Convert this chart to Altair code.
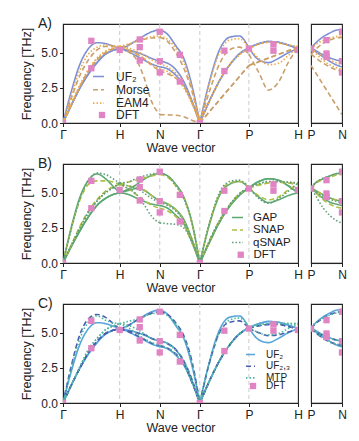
import altair as alt
import pandas as pd

FONT = "Liberation Sans"
INK = "#222222"
PINK = "#e184c4"
YMAX = 7.05

# ---- path (BCC, units of 2pi/a) ----
K_MAIN = [0, 0.15, 0.3, 0.45, 0.6, 0.75, 0.9, 1.0,
          1.141, 1.283, 1.424, 1.566, 1.707,
          1.848, 1.990, 2.131, 2.273, 2.414,
          2.587, 2.760, 2.934, 3.107, 3.280,
          3.454, 3.627, 3.800, 3.973, 4.146]
SEG_MAIN = [(0, 7), (7, 12), (12, 17), (17, 22), (22, 27)]
K_SIDE = [0, 0.1, 0.2, 0.3, 0.4, 0.5]
SEG_SIDE = [(0, 5)]
TICK_POS = [0, 1.0, 1.707, 2.414, 3.280, 4.146]
TICK_LAB = ["Γ", "H", "N", "Γ", "P", "H"]
SIDE_TICK_POS = [0, 0.5]
SIDE_TICK_LAB = ["P", "N"]
GRID_POS = [1.0, 1.707, 2.414, 3.280]
Y_TICKS = [0, 2.5, 5.0]

# ---- DFT reference points ----
DFT_K = [0, 0.5, 0.5, 1.0, 1.354, 1.354, 1.354, 1.707, 1.707, 1.707,
         2.061, 2.061, 2.414, 2.847, 2.847, 3.280, 3.713, 3.713, 4.146]
DFT_F = [0, 5.85, 3.9, 5.2, 5.95, 5.4, 4.45, 6.5, 4.4, 3.6,
         4.85, 2.95, 0, 5.15, 3.7, 5.3, 5.6, 5.15, 5.2]
DFT_SIDE_K = [0, 0.25, 0.25, 0.25, 0.5, 0.5, 0.5]
DFT_SIDE_F = [5.3, 5.9, 4.95, 4.7, 6.5, 4.4, 3.6]

# ---- Panel A / C : UF2 ----
UF2_B3 = [0, 2.3, 4.2, 5.3, 5.72, 5.65, 5.45, 5.3, 5.5, 5.85, 6.2, 6.5, 6.65,
          6.3, 5.5, 4.6, 2.7, 0, 3.0, 5.2, 6.1, 6.2, 5.35, 5.65, 5.8, 5.75, 5.55, 5.3]
UF2_B2 = [0, 1.3, 2.5, 3.5, 4.3, 4.9, 5.2, 5.3, 5.2, 5.05, 4.85, 4.6, 4.4,
          4.25, 3.8, 2.95, 1.6, 0, 1.6, 3.0, 4.1, 4.9, 5.35, 5.65, 5.8, 5.75, 5.55, 5.3]
UF2_B1 = [0, 1.3, 2.5, 3.5, 4.3, 4.9, 5.2, 5.3, 5.1, 4.8, 4.5, 4.2, 4.0,
          3.85, 3.4, 2.7, 1.5, 0, 1.6, 3.0, 4.1, 4.9, 5.35, 4.5, 4.3, 4.6, 5.0, 5.3]
UF2_S = [[5.35, 5.8, 6.15, 6.4, 6.6, 6.65], [5.35, 5.1, 4.85, 4.65, 4.5, 4.4],
         [5.35, 5.0, 4.7, 4.4, 4.15, 4.0]]

# ---- Panel A : Morse ----
MORSE_B3 = [0, 1.8, 3.4, 4.5, 5.2, 5.45, 5.45, 5.4, 5.55, 5.8, 5.95, 6.05, 6.1,
            5.8, 5.0, 3.9, 2.3, 0, 2.3, 4.2, 5.2, 5.4, 4.9, 3.6, 2.35, 2.9, 4.3, 5.4]
MORSE_B2 = [0, 1.3, 2.6, 3.7, 4.5, 5.0, 5.3, 5.4, 5.2, 4.95, 4.6, 4.1, 3.7,
            3.5, 3.2, 2.6, 1.5, 0, 0.82, 1.64, 2.46, 3.28, 4.1, 4.36, 4.62, 4.88, 5.14, 5.4]
MORSE_B1 = [0, 1.3, 2.6, 3.7, 4.5, 5.0, 5.3, 5.4, 5.1, 4.6, 3.3, 1.5, 0.6,
            0.58, 0.55, 0.45, 0.2, 0, 0.82, 1.64, 2.46, 3.28, 4.1, 4.36, 4.62, 4.88, 5.14, 5.4]
MORSE_S = [[4.9, 5.35, 5.7, 5.9, 6.05, 6.1], [4.9, 4.55, 4.25, 4.0, 3.8, 3.7],
           [4.1, 3.4, 2.7, 2.0, 1.3, 0.6]]

# ---- Panel A : EAM4 ----
EAM4_B3 = [0, 2.0, 3.8, 4.9, 5.4, 5.55, 5.5, 5.45, 5.6, 5.8, 6.0, 6.15, 6.2,
           5.95, 5.3, 4.3, 2.5, 0, 2.9, 5.0, 5.9, 6.0, 5.3, 5.6, 5.75, 5.7, 5.55, 5.45]
EAM4_B2 = [0, 1.4, 2.7, 3.8, 4.6, 5.1, 5.35, 5.45, 5.35, 5.15, 4.85, 4.5, 4.2,
           4.0, 3.55, 2.75, 1.5, 0, 1.6, 3.0, 4.1, 4.85, 5.3, 5.6, 5.75, 5.7, 5.55, 5.45]
EAM4_B1 = [0, 1.4, 2.7, 3.8, 4.6, 5.1, 5.35, 5.45, 5.25, 4.95, 4.6, 4.15, 3.85,
           3.65, 3.2, 2.5, 1.4, 0, 1.6, 3.0, 4.1, 4.85, 5.3, 4.6, 4.15, 4.25, 4.8, 5.45]
EAM4_S = [[5.3, 5.65, 5.9, 6.05, 6.15, 6.2], [5.3, 5.0, 4.75, 4.5, 4.3, 4.2],
          [5.3, 4.85, 4.45, 4.15, 3.95, 3.85]]

# ---- Panel B : GAP ----
GAP_B3 = [0, 2.6, 4.7, 5.9, 6.35, 6.0, 5.4, 5.0, 5.25, 5.55, 5.95, 6.25, 6.4,
          6.2, 5.6, 4.7, 2.9, 0, 2.8, 4.8, 5.6, 5.8, 5.35, 5.8, 6.0, 5.9, 5.5, 5.0]
GAP_B2 = [0, 1.2, 2.3, 3.3, 4.1, 4.6, 4.9, 5.0, 5.15, 5.3, 5.2, 4.8, 4.4,
          4.2, 3.8, 3.1, 1.7, 0, 1.5, 2.9, 4.0, 4.8, 5.35, 5.8, 6.0, 5.9, 5.5, 5.0]
GAP_B1 = [0, 1.2, 2.3, 3.3, 4.1, 4.6, 4.9, 5.0, 4.9, 4.65, 4.4, 4.2, 4.1,
          3.9, 3.4, 2.8, 1.5, 0, 1.5, 2.9, 4.0, 4.8, 5.35, 4.7, 4.3, 4.5, 4.8, 5.0]
GAP_S = [[5.35, 5.8, 6.0, 6.2, 6.35, 6.4], [5.35, 5.1, 4.85, 4.65, 4.5, 4.4],
         [5.35, 4.95, 4.6, 4.35, 4.2, 4.1]]

# ---- Panel B : SNAP ----
SNAP_B3 = [0, 2.5, 4.5, 5.6, 5.85, 5.85, 5.75, 5.6, 5.75, 5.9, 6.05, 6.2, 6.3,
           6.1, 5.5, 4.6, 2.9, 0, 2.9, 4.9, 5.7, 5.8, 5.35, 5.55, 5.7, 5.75, 5.7, 5.6]
SNAP_B2 = [0, 1.3, 2.6, 3.7, 4.5, 5.1, 5.45, 5.6, 5.5, 5.4, 5.2, 4.8, 4.4,
           4.2, 3.8, 3.0, 1.7, 0, 1.6, 3.0, 4.1, 4.9, 5.35, 5.55, 5.7, 5.75, 5.7, 5.6]
SNAP_B1 = [0, 1.3, 2.6, 3.7, 4.5, 5.1, 5.45, 5.6, 5.3, 4.9, 4.5, 4.1, 3.9,
           3.7, 3.3, 2.7, 1.5, 0, 1.6, 3.0, 4.1, 4.9, 5.35, 4.8, 4.5, 4.7, 5.2, 5.6]
SNAP_S = [[5.35, 5.75, 5.95, 6.1, 6.25, 6.3], [5.35, 5.1, 4.85, 4.6, 4.5, 4.4],
          [5.35, 4.9, 4.5, 4.2, 4.0, 3.9]]

# ---- Panel B : qSNAP ----
QSNAP_B3 = [0, 2.5, 4.6, 5.9, 6.4, 6.3, 5.95, 5.7, 5.75, 6.0, 6.2, 6.35, 6.4,
            6.2, 5.5, 4.6, 2.9, 0, 2.9, 5.0, 5.8, 5.9, 5.4, 5.65, 5.8, 5.8, 5.75, 5.7]
QSNAP_B2 = [0, 1.3, 2.5, 3.6, 4.4, 5.0, 5.4, 5.7, 5.5, 5.35, 5.0, 4.6, 4.3,
            4.1, 3.7, 3.0, 1.7, 0, 1.6, 3.0, 4.1, 4.9, 5.4, 5.65, 5.8, 5.8, 5.75, 5.7]
QSNAP_B1 = [0, 1.3, 2.5, 3.6, 4.4, 5.0, 5.4, 5.7, 5.3, 4.95, 4.2, 3.3, 2.85,
            2.8, 2.75, 2.5, 1.5, 0, 1.6, 3.0, 4.1, 4.9, 5.4, 4.6, 4.25, 4.6, 5.1, 5.7]
QSNAP_S = [[5.4, 5.8, 6.05, 6.2, 6.35, 6.4], [5.4, 5.0, 4.75, 4.55, 4.4, 4.3],
           [5.4, 4.6, 3.9, 3.4, 3.05, 2.85]]

# ---- Panel C : UF2,3 ----
UF23_B3 = [0, 2.7, 4.9, 6.0, 6.3, 6.1, 5.6, 5.25, 5.5, 5.85, 6.15, 6.4, 6.5,
           6.3, 5.7, 4.8, 3.0, 0, 2.9, 5.0, 5.75, 5.85, 5.3, 5.5, 5.6, 5.6, 5.45, 5.25]
UF23_B2 = [0, 1.3, 2.5, 3.6, 4.4, 4.95, 5.2, 5.25, 5.15, 5.0, 4.9, 4.6, 4.4,
           4.2, 3.8, 3.0, 1.7, 0, 1.6, 3.0, 4.1, 4.9, 5.3, 5.5, 5.6, 5.6, 5.45, 5.25]
UF23_B1 = [0, 1.3, 2.5, 3.6, 4.4, 4.95, 5.2, 5.25, 5.1, 4.85, 4.55, 4.25, 4.1,
           3.9, 3.5, 2.8, 1.5, 0, 1.6, 3.0, 4.1, 4.9, 5.3, 5.0, 4.8, 4.85, 5.05, 5.25]
UF23_S = [[5.3, 5.75, 6.05, 6.3, 6.45, 6.5], [5.3, 5.0, 4.8, 4.6, 4.5, 4.4],
          [5.3, 4.9, 4.6, 4.35, 4.2, 4.1]]

# ---- Panel C : MTP ----
MTP_B3 = [0, 2.5, 4.6, 5.8, 6.2, 5.9, 5.7, 5.65, 5.8, 5.95, 6.15, 6.35, 6.45,
          6.2, 5.6, 4.7, 2.9, 0, 2.9, 5.0, 5.9, 6.05, 5.4, 5.55, 5.65, 5.65, 5.65, 5.65]
MTP_B2 = [0, 1.3, 2.6, 3.8, 4.6, 5.2, 5.5, 5.65, 5.55, 5.3, 4.95, 4.6, 4.4,
          4.2, 3.75, 3.0, 1.65, 0, 1.6, 3.0, 4.1, 4.9, 5.4, 5.55, 5.65, 5.65, 5.65, 5.65]
MTP_B1 = [0, 1.3, 2.6, 3.8, 4.6, 5.2, 5.5, 5.65, 5.4, 5.0, 4.6, 4.3, 4.1,
          3.9, 3.45, 2.75, 1.5, 0, 1.6, 3.0, 4.1, 4.9, 5.4, 5.0, 4.85, 4.95, 5.3, 5.65]
MTP_S = [[5.4, 5.8, 6.05, 6.25, 6.4, 6.45], [5.4, 5.05, 4.8, 4.6, 4.5, 4.4],
         [5.4, 4.95, 4.6, 4.35, 4.2, 4.1]]

DOT = [1.5, 2]
DASH = [5, 3]
SOLID = [1, 0]
SQ = 40


def build_lines(models, K, segs):
    rows = []
    for name, branches in models:
        for bi, vals in enumerate(branches):
            for si, (a, b) in enumerate(segs):
                for i in range(a, b + 1):
                    rows.append({"model": name, "k": K[i], "f": vals[i],
                                 "grp": f"{name}|{bi}|{si}", "o": i})
    return pd.DataFrame(rows)


def label_expr(pos, labs):
    expr = "''"
    for p, l in zip(reversed(pos), reversed(labs)):
        expr = f"abs(datum.value - {p}) < 0.01 ? '{l}' : ({expr})"
    return expr


def panel(letter, names, colors, dashes, main_models, side_models, leg):
    yscale = alt.Scale(domain=[0, YMAX], nice=False, zero=False)
    y_axis = alt.Axis(values=Y_TICKS, format=".1f", title="Frequency [THz]",
                      grid=False, tickSize=3.5, labelPadding=2, titlePadding=7)
    X = alt.X("k:Q", scale=alt.Scale(domain=[0, K_MAIN[-1]], nice=False, zero=False),
              axis=alt.Axis(values=TICK_POS, labelExpr=label_expr(TICK_POS, TICK_LAB),
                            title="Wave vector", grid=False, labelFlush=False,
                            labelOverlap=False, tickSize=3.5, labelPadding=3, titlePadding=1))
    Y = alt.Y("f:Q", scale=yscale, axis=y_axis)

    grid = alt.Chart(pd.DataFrame({"k": GRID_POS})).mark_rule(
        color="#c4c4c4", strokeDash=[4, 3], strokeWidth=0.9).encode(x=X)

    legend_common = dict(title=None, orient="none", padding=0, labelFont=FONT,
                         labelColor=INK, labelFontSize=leg["fs"], rowPadding=leg["rp"])
    line_legend = alt.Legend(legendX=leg["lx"], legendY=leg["ly"], symbolSize=leg["ss"],
                             symbolStrokeWidth=1.6, symbolType="stroke",
                             labelOffset=leg["lo"], **legend_common)
    lines = alt.Chart(build_lines(main_models, K_MAIN, SEG_MAIN)).mark_line(
        interpolate="monotone", strokeWidth=1.6, clip=True).encode(
        x=X, y=Y,
        color=alt.Color("model:N", scale=alt.Scale(domain=names, range=colors), legend=line_legend),
        strokeDash=alt.StrokeDash("model:N", scale=alt.Scale(domain=names, range=dashes),
                                  legend=line_legend),
        detail="grp:N", order="o:Q")

    dft = alt.Chart(pd.DataFrame({"k": DFT_K, "f": DFT_F, "src": ["DFT"] * len(DFT_K)})).mark_square(
        size=SQ, opacity=1, clip=True).encode(
        x=X, y=Y,
        fill=alt.Fill("src:N", scale=alt.Scale(domain=["DFT"], range=[PINK]),
                      legend=alt.Legend(legendX=leg["dx"], legendY=leg["dy"], symbolSize=SQ,
                                        symbolType="square", labelOffset=leg["do"],
                                        symbolStrokeWidth=0, **legend_common)))

    main = alt.layer(grid, lines, dft).properties(
        width=235, height=99,
        title=alt.TitleParams(letter, anchor="start", frame="group", dx=-25, dy=18,
                              offset=0, baseline="alphabetic", fontSize=14,
                              fontWeight="normal", font=FONT, color=INK))

    XS = alt.X("k:Q", scale=alt.Scale(domain=[0, 0.5], nice=False, zero=False),
               axis=alt.Axis(values=SIDE_TICK_POS, labelExpr=label_expr(SIDE_TICK_POS, SIDE_TICK_LAB),
                             title=None, grid=False, labelFlush=False, labelOverlap=False,
                             tickSize=3.5, labelPadding=3))
    YS = alt.Y("f:Q", scale=yscale, axis=None)
    side_lines = alt.Chart(build_lines(side_models, K_SIDE, SEG_SIDE)).mark_line(
        interpolate="monotone", strokeWidth=1.6, clip=True).encode(
        x=XS, y=YS,
        color=alt.Color("model:N", scale=alt.Scale(domain=names, range=colors), legend=None),
        strokeDash=alt.StrokeDash("model:N", scale=alt.Scale(domain=names, range=dashes), legend=None),
        detail="grp:N", order="o:Q")
    side_dft = alt.Chart(pd.DataFrame({"k": DFT_SIDE_K, "f": DFT_SIDE_F})).mark_square(
        size=SQ, opacity=1, clip=True, color=PINK).encode(x=XS, y=YS)
    side = alt.layer(side_lines, side_dft).properties(width=31, height=99)

    return alt.hconcat(main, side, spacing=13, bounds="flush").resolve_scale(
        x="independent", y="independent", color="independent",
        strokeDash="independent", fill="independent")


rowA = panel("A)", ["UF₂", "Morse", "EAM4"], ["#7d90d4", "#c9a06c", "#eeaa4a"],
             [SOLID, DASH, DOT],
             [("UF₂", [UF2_B3, UF2_B2, UF2_B1]), ("Morse", [MORSE_B3, MORSE_B2, MORSE_B1]),
              ("EAM4", [EAM4_B3, EAM4_B2, EAM4_B1])],
             [("UF₂", UF2_S), ("Morse", MORSE_S), ("EAM4", EAM4_S)],
             dict(lx=29, ly=46, lo=11, ss=121, dx=33, dy=85, do=8, fs=12, rp=0.3))
rowB = panel("B)", ["GAP", "SNAP", "qSNAP"], ["#5aa872", "#b0bd45", "#5f9e78"],
             [SOLID, DASH, DOT],
             [("GAP", [GAP_B3, GAP_B2, GAP_B1]), ("SNAP", [SNAP_B3, SNAP_B2, SNAP_B1]),
              ("qSNAP", [QSNAP_B3, QSNAP_B2, QSNAP_B1])],
             [("GAP", GAP_S), ("SNAP", SNAP_S), ("qSNAP", QSNAP_S)],
             dict(lx=168, ly=47, lo=9, ss=121, dx=172, dy=85, do=7, fs=11.5, rp=0.5))
rowC = panel("C)", ["UF₂", "UF₂,₃", "MTP"], ["#58a6da", "#4a5db0", "#4db89c"],
             [SOLID, DASH, DOT],
             [("UF₂", [UF2_B3, UF2_B2, UF2_B1]), ("UF₂,₃", [UF23_B3, UF23_B2, UF23_B1]),
              ("MTP", [MTP_B3, MTP_B2, MTP_B1])],
             [("UF₂", UF2_S), ("UF₂,₃", UF23_S), ("MTP", MTP_S)],
             dict(lx=182, ly=45, lo=10, ss=81, dx=185, dy=77, do=8, fs=10, rp=0.7),)

chart = alt.vconcat(rowA, rowB, rowC, spacing=1).resolve_scale(
    x="independent", y="independent", color="independent",
    strokeDash="independent", fill="independent").properties(
    padding={"left": 12, "top": 8, "right": 4, "bottom": 2}
).configure_view(stroke=INK, strokeWidth=1.1).configure_axis(
    labelFont=FONT, titleFont=FONT, labelFontSize=12, titleFontSize=12.5,
    labelColor=INK, titleColor=INK, tickColor=INK, domainColor=INK,
    titleFontWeight="normal", domainWidth=1.1, tickWidth=1
)

chart.save("out.html", embed_options={"renderer": "svg", "actions": False})
